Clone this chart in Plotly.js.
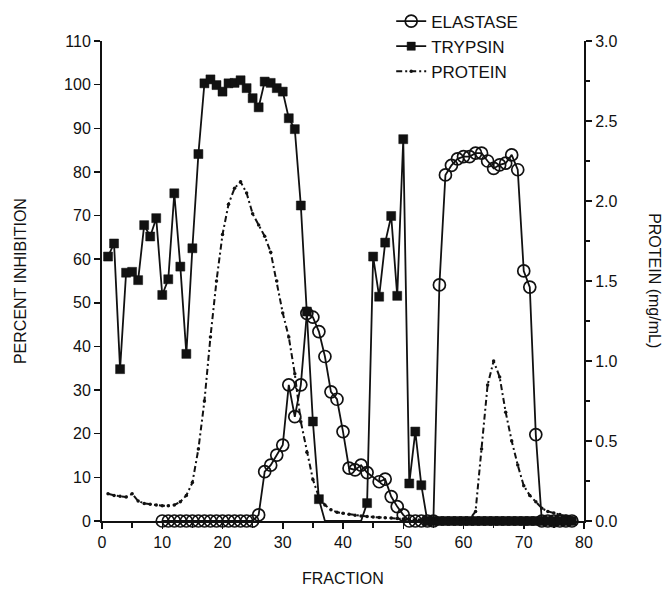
<!DOCTYPE html>
<html>
<head>
<meta charset="utf-8">
<script src="https://cdn.plot.ly/plotly-3.0.1.min.js"></script>
<style>html,body{margin:0;padding:0;background:#fff;}#chart{width:670px;height:596px;}</style>
</head>
<body>
<div id="chart"></div>
<script>
// ---- data ----
const trypsinFraction = [1,2,3,4,5,6,7,8,9,10,11,12,13,14,15,16,17,18,19,20,21,22,23,24,25,26,27,28,29,30,31,32,33,34,35,36,37,38,39,40,41,42,43,44,45,46,47,48,49,50,51,52,53,54,55,56,57,58,59,60,61,62,63,64,65,66,67,68,69,70,71,72,73,74,75,76,77,78];
const trypsinValue = [60.6,63.6,34.8,56.9,57.1,55.2,67.8,65.2,69.4,51.8,55.4,75.1,58.3,38.3,62.5,84.1,100.3,101.2,99.9,98.4,100.3,100.4,101,99.2,96.9,94.8,100.7,100.4,99.2,98.4,92.3,89.8,72.3,48,22.8,5,0,0,0,0,0,0,0,4.1,60.6,51.4,63.8,69.9,51.6,87.5,8.6,20.5,8.2,0,0,0,0,0,0,0,0,0,0,0,0,0,0,0,0,0,0,0,0,0,0,0,0,0];
// fractions whose squares are not drawn in the reference (37-43)
const trypsinHidden = [37,38,39,40,41,42,43];

const elastaseFraction = [10,11,12,13,14,15,16,17,18,19,20,21,22,23,24,25,26,27,28,29,30,31,32,33,34,35,36,37,38,39,40,41,42,43,44,46,47,48,49,50,51,52,53,54,55,56,57,58,59,60,61,62,63,64,65,66,67,68,69,70,71,72,73,74,75,76,77,78];
const elastaseValue = [0,0,0,0,0,0,0,0,0,0,0,0,0,0,0,0,1.4,11.3,12.8,15.1,17.4,31.2,23.9,31.2,47.6,46.7,43.4,37.7,29.6,27.9,20.5,12.1,11.7,12.8,11.1,9,9.6,5.6,3.3,1.4,0,0,0,0,0,54.1,79.3,81.5,83,83.5,83.5,84.3,84.3,82.5,80.8,81.6,82,83.9,80.5,57.3,53.6,19.8,0,0,0,0,0,0];

const proteinFraction = [1,2,3,4,5,6,7,8,9,10,11,12,13,14,15,16,17,18,19,20,21,22,23,24,25,26,27,28,29,30,31,32,33,34,35,36,37,38,39,40,41,42,43,44,45,46,47,48,49,50,51,52,53,54,55,56,57,58,59,60,61,62,63,64,65,66,67,68,69,70,71,72,73,74,75,76,77,78];
const proteinValue = [0.17,0.16,0.155,0.15,0.17,0.125,0.11,0.105,0.1,0.095,0.095,0.1,0.12,0.16,0.24,0.45,0.75,1.15,1.5,1.79,1.98,2.08,2.12,2.05,1.92,1.85,1.78,1.68,1.5,1.3,1.15,0.92,0.62,0.43,0.26,0.15,0.1,0.07,0.055,0.048,0.042,0.036,0.032,0.028,0.025,0.022,0.02,0.018,0.015,0.012,0.01,0.01,0.01,0.01,0.01,0.01,0.01,0.01,0.01,0.01,0.01,0.06,0.45,0.85,1.0,0.9,0.68,0.5,0.35,0.22,0.16,0.12,0.08,0.06,0.05,0.04,0.03,0.02];

const xTickVals = [0,10,20,30,40,50,60,70,80];
const yTickVals = [0,10,20,30,40,50,60,70,80,90,100,110];
const y2TickVals = [0,0.5,1,1.5,2,2.5,3];
const y2TickText = ['0.0','0.5','1.0','1.5','2.0','2.5','3.0'];

// ---- chart ----
const ink = '#111111';
const fontFam = '"Liberation Sans", Arial, Helvetica, sans-serif';

const trypsinSizes = trypsinFraction.map(f => trypsinHidden.includes(f) ? 0 : 9);

const traces = [
  {
    x: elastaseFraction, y: elastaseValue, name: 'ELASTASE', type: 'scatter', mode: 'lines+markers',
    line: {color: ink, width: 1.8},
    marker: {symbol: 'circle-open', size: 12, color: ink, opacity: 1, line: {color: ink, width: 1.7}},
    cliponaxis: false
  },
  {
    x: trypsinFraction, y: trypsinValue, name: 'TRYPSIN', type: 'scatter', mode: 'lines+markers',
    line: {color: ink, width: 1.8},
    marker: {symbol: 'square', size: trypsinSizes, color: ink, opacity: 1, line: {color: ink, width: 0.5}},
    cliponaxis: false
  },
  {
    x: proteinFraction, y: proteinValue, name: 'PROTEIN', type: 'scatter', mode: 'lines+markers',
    yaxis: 'y2',
    line: {color: ink, width: 2, dash: '6px,3px,2px,3px'},
    marker: {symbol: 'circle', size: 3.5, color: ink, opacity: 1},
    cliponaxis: false
  }
];

const layout = {
  width: 670, height: 596,
  margin: {l: 102, r: 86, t: 41, b: 75, autoexpand: false},
  paper_bgcolor: '#fff', plot_bgcolor: '#fff',
  font: {family: fontFam, size: 16, color: ink},
  showlegend: true,
  legend: {
    x: 0.600, y: 1.078, xanchor: 'left', yanchor: 'top',
    bgcolor: 'rgba(0,0,0,0)', font: {family: fontFam, size: 17, color: ink},
    tracegroupgap: 0, itemwidth: 30
  },
  xaxis: {
    range: [0, 80], tickvals: xTickVals, ticks: 'outside', ticklen: 6, tickwidth: 1.5, tickcolor: ink,
    showline: true, linewidth: 2, linecolor: ink, showgrid: false, zeroline: false,
    minor: {dtick: 5, tick0: 0, ticks: 'outside', ticklen: 5, tickwidth: 1.5, tickcolor: ink, showgrid: false},
    tickfont: {family: fontFam, size: 16, color: ink}
  },
  yaxis: {
    range: [0, 110], tickvals: yTickVals, ticks: 'outside', ticklen: 6, tickwidth: 1.5, tickcolor: ink,
    showline: true, linewidth: 2, linecolor: ink, showgrid: false, zeroline: false,
    tickfont: {family: fontFam, size: 16, color: ink}
  },
  yaxis2: {
    range: [0, 3], overlaying: 'y', side: 'right', tickvals: y2TickVals, ticktext: y2TickText,
    ticks: 'outside', ticklen: 6, tickwidth: 1.5, tickcolor: ink,
    showline: true, linewidth: 2, linecolor: ink, showgrid: false, zeroline: false,
    minor: {dtick: 0.25, tick0: 0, ticks: 'outside', ticklen: 4, tickwidth: 1.5, tickcolor: ink, showgrid: false},
    tickfont: {family: fontFam, size: 16, color: ink}
  },
  annotations: [
    {text: 'PERCENT INHIBITION', xref: 'paper', yref: 'paper', x: -0.170, y: 0.5, textangle: -90,
     showarrow: false, xanchor: 'center', yanchor: 'middle', font: {family: fontFam, size: 16, color: ink}},
    {text: 'PROTEIN (mg/mL)', xref: 'paper', yref: 'paper', x: 1.147, y: 0.5, textangle: 90,
     showarrow: false, xanchor: 'center', yanchor: 'middle', font: {family: fontFam, size: 16, color: ink}},
    {text: 'FRACTION', xref: 'paper', yref: 'paper', x: 0.5, y: -0.119, showarrow: false,
     xanchor: 'center', yanchor: 'middle', font: {family: fontFam, size: 16, color: ink}}
  ]
};

Plotly.newPlot('chart', traces, layout, {displayModeBar: false, staticPlot: true});
</script>
</body>
</html>
